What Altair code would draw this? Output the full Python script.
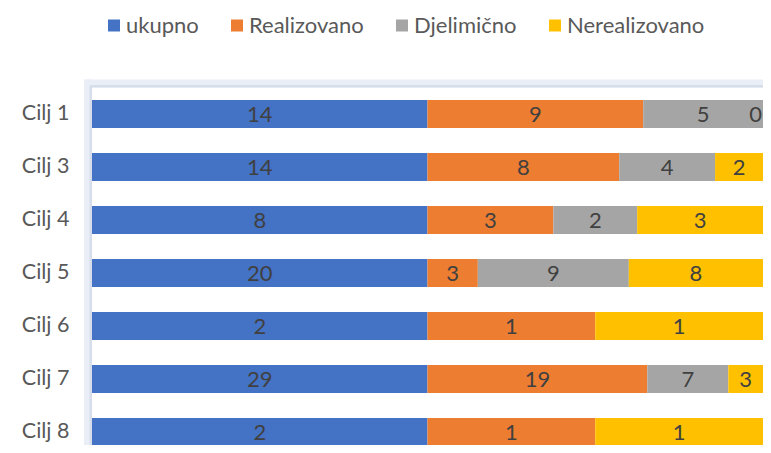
import altair as alt
import pandas as pd

cats = ["Cilj 1", "Cilj 3", "Cilj 4", "Cilj 5", "Cilj 6", "Cilj 7", "Cilj 8"]
series = ["ukupno", "Realizovano", "Djelimično", "Nerealizovano"]
ukupno = [14, 14, 8, 20, 2, 29, 2]
realizovano = [9, 8, 3, 3, 1, 19, 1]
djelimicno = [5, 4, 2, 9, None, 7, None]
nerealizovano = [0, 2, 3, 8, 1, 3, 1]
colors = ["#4472C4", "#ED7D31", "#A5A5A5", "#FFC000"]

rows = []
for i, c in enumerate(cats):
    for j, (s, vals) in enumerate(zip(series, [ukupno, realizovano, djelimicno, nerealizovano])):
        rows.append({"cat": c, "series": s, "order": j, "value": vals[i]})
df = pd.DataFrame(rows)

FONT = "Lato"
W = 671
H = 357

base = alt.Chart(df).transform_filter(
    "datum.value != null"
).transform_stack(
    stack="value", groupby=["cat"], sort=[alt.SortField("order")],
    as_=["v0", "v1"], offset="normalize"
).transform_calculate(mid="(datum.v0 + datum.v1) / 2")

yenc = alt.Y("cat:N", sort=cats, title=None,
             scale=alt.Scale(range=[0, 371], paddingInner=0.4717, paddingOuter=0.2358),
             axis=alt.Axis(ticks=False, domain=False, labelFont=FONT, labelFontSize=21.5,
                           labelColor="#595959", labelPadding=23, grid=False))

bars = base.mark_bar().encode(
    x=alt.X("v0:Q", axis=None, scale=alt.Scale(domain=[0, 1], nice=False, zero=True)),
    x2="v1:Q",
    y=yenc,
    color=alt.Color("series:N", sort=series,
                    scale=alt.Scale(domain=series, range=colors),
                    legend=alt.Legend(orient="none", legendX=11, legendY=-73, direction="horizontal",
                                      title=None, symbolType="square", symbolSize=144,
                                      symbolStrokeWidth=0, labelFont=FONT, labelFontSize=22,
                                      labelColor="#595959", columnPadding=27, labelOffset=1)),
)

text_enc = dict(
    x=alt.X("mid:Q"),
    y=alt.Y("cat:N", sort=cats),
    text=alt.Text("value:Q"),
)
labels = base.transform_filter("datum.mid < 0.999").mark_text(
    font=FONT, fontSize=22, color="#404040", baseline="middle", dy=1).encode(**text_enc)
labels_edge = base.transform_filter("datum.mid >= 0.999").mark_text(
    font=FONT, fontSize=22, color="#404040", baseline="middle", dy=1, align="right", dx=-1).encode(**text_enc)

frame_df = pd.DataFrame({"k": [0]})
frame = alt.Chart(frame_df)
f1 = frame.mark_rule(color="#eaeef6", strokeWidth=8).encode(x=alt.value(-4), y=alt.value(-8), y2=alt.value(H + 20))
f2 = frame.mark_rule(color="#eaeef6", strokeWidth=8).encode(x=alt.value(-8), x2=alt.value(W + 2), y=alt.value(-4))
f3 = frame.mark_rule(color="#d6deec", strokeWidth=2.5).encode(x=alt.value(-1.25), y=alt.value(-2), y2=alt.value(H + 20))
f4 = frame.mark_rule(color="#d6deec", strokeWidth=2.5).encode(x=alt.value(-2), x2=alt.value(W), y=alt.value(-1.25))

chart = alt.layer(f1, f2, f3, f4, bars, labels, labels_edge).properties(
    width=W, height=H,
    autosize=alt.AutoSizeParams(type="none"),
    padding={"left": 84, "top": 79.5, "right": 0, "bottom": 0},
).configure_view(stroke=None)

chart.save("out.html", embed_options={"renderer": "svg", "actions": False})
